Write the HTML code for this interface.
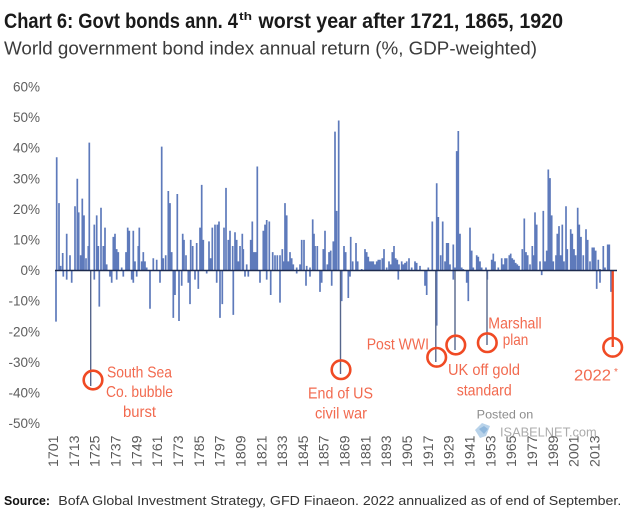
<!DOCTYPE html>
<html><head><meta charset="utf-8">
<style>
html,body{margin:0;padding:0;background:#fff;}
svg{display:block;}
text{font-family:"Liberation Sans",sans-serif;}
</style></head>
<body>
<svg width="630" height="513" viewBox="0 0 630 513" xmlns="http://www.w3.org/2000/svg">
<rect width="630" height="513" fill="#fff"/>
<!-- Title -->
<text x="4" y="28" font-size="21" font-weight="bold" fill="#1a1a1a" textLength="234" lengthAdjust="spacingAndGlyphs">Chart 6: Govt bonds ann. 4</text>
<text x="239" y="20" font-size="11" font-weight="bold" fill="#1a1a1a" textLength="13" lengthAdjust="spacingAndGlyphs">th</text>
<text x="258.5" y="28" font-size="21" font-weight="bold" fill="#1a1a1a" textLength="304.5" lengthAdjust="spacingAndGlyphs">worst year after 1721, 1865, 1920</text>
<text x="4" y="54.5" font-size="18.5" fill="#3b3b3b" textLength="533" lengthAdjust="spacingAndGlyphs">World government bond index annual return (%, GDP-weighted)</text>

<!-- Y axis labels -->
<g font-size="13.5" fill="#5e5e5e" text-anchor="end">
<text x="40" y="91.5">60%</text>
<text x="40" y="122.1">50%</text>
<text x="40" y="152.7">40%</text>
<text x="40" y="183.3">30%</text>
<text x="40" y="213.9">20%</text>
<text x="40" y="244.5">10%</text>
<text x="40" y="275.1">0%</text>
<text x="40" y="305.7">-10%</text>
<text x="40" y="336.3">-20%</text>
<text x="40" y="366.9">-30%</text>
<text x="40" y="397.5">-40%</text>
<text x="40" y="428.1">-50%</text>
</g>

<!-- Watermark -->
<g>
<path d="M475 430 L482 423 L490 426 L486 436 L480 438 Z" fill="#b9d3ea"/>
<path d="M479 429 L484 426 L488 429 L484 434 Z" fill="#8fb7dc"/>
<text x="476.7" y="418.3" font-size="12" fill="#8c8c8c" textLength="56.6" lengthAdjust="spacingAndGlyphs">Posted on</text>
<text x="500" y="436.7" font-size="13" fill="#ababab" textLength="96.7" lengthAdjust="spacingAndGlyphs">ISABELNET.com</text>
</g>

<!-- Bars (x in px, y in %) -->
<g transform="translate(0,270.5) scale(1,-3.06)">
<path fill="none" stroke="#5e7abb" stroke-width="1.7" vector-effect="non-scaling-stroke" d="
M56.7 0V37 M59 0V22 M60.7 0V1.5 M62.7 0V5.7 M66.7 0V12 M70 0V5 M75 0V21 M77.3 0V30 M78.7 0V19 M80.7 0V5 M82.3 0V23.5 M84 0V18 M86 0V4 M88.3 0V8 M89.3 0V41.8 M94.3 0V15 M96.7 0V18 M98.3 0V8 M101 0V20.5 M103.3 0V8 M105 0V14 M106.7 0V2 M113.3 0V11 M115 0V12 M116.7 0V7 M118.3 0V6 M121.7 0V1 M126 0V6 M127.7 0V14 M129.3 0V13 M133.3 0V13 M135 0V3 M138.3 0V8 M139.3 0V14 M141.7 0V3 M143.3 0V6 M145 0V3 M146.7 0V1 M153.3 0V4 M156.7 0V3.5 M161.7 0V40.5 M163.3 0V4 M165.7 0V5 M168.3 0V26 M170 0V22 M171.7 0V6 M177.3 0V25 M182.7 0V12 M184 0V10 M186 0V5 M190.7 0V10 M192.7 0V8 M196.7 0V9 M200 0V14 M201.7 0V28 M203.3 0V10 M209 0V9.5 M210.7 0V4 M212.3 0V14 M215 0V15 M217.3 0V15 M219 0V16 M224 0V14 M226 0V27 M228.3 0V10 M230 0V13 M232.7 0V8 M235 0V12.5 M236.7 0V10 M238.3 0V3 M240 0V8 M242.3 0V12 M243.3 0V7 M246.7 0V2 M250.7 0V10 M252.3 0V16 M254 0V6 M255.7 0V6 M257.3 0V34 M263.3 0V13 M265 0V15 M266.7 0V16.5 M269.3 0V16 M272.7 0V6 M275 0V5 M277.3 0V5 M280 0V5 M282.3 0V7 M284 0V3 M285 0V22 M286.7 0V18 M288.3 0V3 M290 0V6 M291.7 0V4 M293.3 0V2 M296.7 0V1 M300 0V2 M301.7 0V10 M304 0V10 M306.7 0V1.5 M310 0V1
M312.7 0V16.7 M314 0V12 M315 0V8 M317.3 0V8 M323.3 0V7 M325 0V13 M327.3 0V2 M329 0V6 M330.7 0V6.5 M333.3 0V9.5 M335 0V45.4 M336.7 0V19.5 M338.7 0V49 M344 0V8 M345.7 0V6 M350.7 0V11 M352.7 0V3 M356 0V9 M357.7 0V3 M361.7 0V0.5 M365 0V7 M366.7 0V6 M368.3 0V4.5 M370 0V3 M371.7 0V3 M373.3 0V3 M375 0V2 M376.7 0V3 M378.3 0V3.5 M380 0V3.5 M382.3 0V4 M384 0V7 M386.7 0V1 M389 0V3 M390.7 0V2 M392.3 0V6 M394 0V8 M395.7 0V4 M397.3 0V3.5 M399 0V2 M401.7 0V3 M403.3 0V2 M405 0V2.5 M406.7 0V3 M409 0V4 M411.7 0V1 M415 0V3 M416.7 0V2.5 M420 0V1.5 M428.3 0V1 M432.3 0V16 M436.7 0V28.5 M438.3 0V17.5 M440.7 0V5 M442.7 0V16 M445 0V3 M446.7 0V9 M448.3 0V9 M450 0V2 M453.3 0V8.5 M455 0V1 M456.7 0V39 M458.3 0V45.6 M460 0V12 M461.7 0V1 M463.3 0V0.5 M470 0V14 M471.7 0V6.5 M473.3 0V1 M476.7 0V5 M478.3 0V4.5 M480 0V3 M481.7 0V1 M486 0V1 M491.7 0V3.5 M493.3 0V5.5 M495 0V3 M498.3 0V1 M501.7 0V4 M503.3 0V2 M505 0V4 M506.7 0V4 M509.3 0V5 M510.7 0V5.5 M512.3 0V4 M514 0V3.5 M515.7 0V2.5 M517.3 0V2 M519 0V1.5 M522.3 0V7 M524.3 0V17 M526 0V6 M527.7 0V5 M530 0V2 M532.3 0V8 M533.3 0V5 M535 0V19 M536.7 0V15 M540 0V3 M543.3 0V19.5 M545 0V3 M546.7 0V6.5 M548.3 0V33 M550 0V30.2 M551.7 0V18 M553.3 0V3 M556 0V5 M557.3 0V12 M559 0V14.5 M560.7 0V5 M562.3 0V15 M564 0V3 M566 0V21 M567.3 0V7 M570.7 0V13.5 M572.3 0V12 M574 0V7 M575.7 0V5 M577.7 0V20.5 M579.3 0V15 M581 0V11 M583.3 0V5 M586 0V13.5 M587.7 0V10 M590 0V3 M592.3 0V7.5 M594 0V7.5 M595.7 0V6.5 M598.3 0V3.5 M600 0V0.5 M603.3 0V8 M605 0V1 M607.7 0V8.5 M609.3 0V8.5
M56 0V-16.7 M63.3 0V-2 M66.7 0V-3 M71.7 0V-4 M94.3 0V-3 M99.3 0V-11.8 M110 0V-2 M111.7 0V-4 M116.7 0V-3 M123.3 0V-2 M131.7 0V-3 M133.3 0V-4 M136.7 0V-2 M150 0V-12.5 M160 0V-4 M173.3 0V-15.5 M175 0V-8 M179 0V-16.5 M181.7 0V-5 M188.3 0V-4 M190 0V-11 M195 0V-3 M198.3 0V-6 M206.7 0V-1 M216.7 0V-4 M220 0V-15.5 M222.3 0V-11 M233.3 0V-14.5 M245 0V-2 M248.3 0V-2 M260 0V-4 M266.7 0V-3 M270.7 0V-8 M280 0V-10.5 M296.7 0V-1 M306 0V-5 M310 0V-2
M320 0V-7 M321.7 0V-4 M331.7 0V-5 M341.7 0V-10 M348.3 0V-9 M350 0V-2 M398.3 0V-3 M425 0V-5 M426.7 0V-8 M436.7 0V-18 M453.3 0V-3 M466.7 0V-4 M468.3 0V-10 M487.3 0V-3 M541.7 0V-1.5 M596.7 0V-6 M600 0V-4 M611 0V-7
"/>
</g>

<!-- Annotation stems -->
<g stroke="#56668c" stroke-width="1.4" fill="none">
<line x1="90.7" y1="270.5" x2="90.7" y2="386"/>
<line x1="340.5" y1="270.5" x2="340.5" y2="374"/>
<line x1="435.8" y1="270.5" x2="435.8" y2="362"/>
<line x1="455" y1="270.5" x2="455" y2="350"/>
<line x1="487" y1="270.5" x2="487" y2="345"/>
</g>
<rect x="611.6" y="271" width="2.3" height="76" fill="#f04a24"/>

<!-- Zero line -->
<line x1="55" y1="270.5" x2="617" y2="270.5" stroke="#1d2b4f" stroke-width="1.6"/>

<!-- Circles -->
<g fill="none" stroke="#f04a24" stroke-width="2.6">
<circle cx="93" cy="380" r="9.3"/>
<circle cx="341" cy="369.7" r="9.3"/>
<circle cx="436.7" cy="357.3" r="9.3"/>
<circle cx="455.8" cy="345" r="9.3"/>
<circle cx="487.3" cy="342.7" r="9.3"/>
<circle cx="612.7" cy="347.3" r="9.3"/>
</g>

<!-- Annotation text -->
<g font-size="16" fill="#f26a4f">
<text x="107" y="377.3" textLength="65" lengthAdjust="spacingAndGlyphs">South Sea</text>
<text x="106" y="397" textLength="67" lengthAdjust="spacingAndGlyphs">Co. bubble</text>
<text x="123" y="417" textLength="33" lengthAdjust="spacingAndGlyphs">burst</text>
<text x="308" y="398.3" textLength="65" lengthAdjust="spacingAndGlyphs">End of US</text>
<text x="315" y="418.3" textLength="52" lengthAdjust="spacingAndGlyphs">civil war</text>
<text x="366.7" y="349.3" textLength="62.3" lengthAdjust="spacingAndGlyphs">Post WWI</text>
<text x="448" y="375" textLength="72" lengthAdjust="spacingAndGlyphs">UK off gold</text>
<text x="456.7" y="395.7" textLength="55" lengthAdjust="spacingAndGlyphs">standard</text>
<text x="488.3" y="328.3" textLength="53.4" lengthAdjust="spacingAndGlyphs">Marshall</text>
<text x="502.7" y="345" textLength="25.6" lengthAdjust="spacingAndGlyphs">plan</text>
<text x="574" y="380.7" textLength="37" lengthAdjust="spacingAndGlyphs">2022</text>
<text x="614" y="375" font-size="10">*</text>
</g>

<!-- X axis labels -->
<g font-size="14" fill="#5a5a5a">
<text transform="translate(58,467) rotate(-90)" textLength="31.5" lengthAdjust="spacingAndGlyphs">1701</text>
<text transform="translate(78.8,467) rotate(-90)" textLength="31.5" lengthAdjust="spacingAndGlyphs">1713</text>
<text transform="translate(99.6,467) rotate(-90)" textLength="31.5" lengthAdjust="spacingAndGlyphs">1725</text>
<text transform="translate(120.5,467) rotate(-90)" textLength="31.5" lengthAdjust="spacingAndGlyphs">1737</text>
<text transform="translate(141.3,467) rotate(-90)" textLength="31.5" lengthAdjust="spacingAndGlyphs">1749</text>
<text transform="translate(162.1,467) rotate(-90)" textLength="31.5" lengthAdjust="spacingAndGlyphs">1761</text>
<text transform="translate(183,467) rotate(-90)" textLength="31.5" lengthAdjust="spacingAndGlyphs">1773</text>
<text transform="translate(203.8,467) rotate(-90)" textLength="31.5" lengthAdjust="spacingAndGlyphs">1785</text>
<text transform="translate(224.6,467) rotate(-90)" textLength="31.5" lengthAdjust="spacingAndGlyphs">1797</text>
<text transform="translate(245.4,467) rotate(-90)" textLength="31.5" lengthAdjust="spacingAndGlyphs">1809</text>
<text transform="translate(266.3,467) rotate(-90)" textLength="31.5" lengthAdjust="spacingAndGlyphs">1821</text>
<text transform="translate(287.1,467) rotate(-90)" textLength="31.5" lengthAdjust="spacingAndGlyphs">1833</text>
<text transform="translate(307.9,467) rotate(-90)" textLength="31.5" lengthAdjust="spacingAndGlyphs">1845</text>
<text transform="translate(328.7,467) rotate(-90)" textLength="31.5" lengthAdjust="spacingAndGlyphs">1857</text>
<text transform="translate(349.6,467) rotate(-90)" textLength="31.5" lengthAdjust="spacingAndGlyphs">1869</text>
<text transform="translate(370.4,467) rotate(-90)" textLength="31.5" lengthAdjust="spacingAndGlyphs">1881</text>
<text transform="translate(391.2,467) rotate(-90)" textLength="31.5" lengthAdjust="spacingAndGlyphs">1893</text>
<text transform="translate(412,467) rotate(-90)" textLength="31.5" lengthAdjust="spacingAndGlyphs">1905</text>
<text transform="translate(432.9,467) rotate(-90)" textLength="31.5" lengthAdjust="spacingAndGlyphs">1917</text>
<text transform="translate(453.7,467) rotate(-90)" textLength="31.5" lengthAdjust="spacingAndGlyphs">1929</text>
<text transform="translate(474.5,467) rotate(-90)" textLength="31.5" lengthAdjust="spacingAndGlyphs">1941</text>
<text transform="translate(495.4,467) rotate(-90)" textLength="31.5" lengthAdjust="spacingAndGlyphs">1953</text>
<text transform="translate(516.2,467) rotate(-90)" textLength="31.5" lengthAdjust="spacingAndGlyphs">1965</text>
<text transform="translate(537,467) rotate(-90)" textLength="31.5" lengthAdjust="spacingAndGlyphs">1977</text>
<text transform="translate(557.8,467) rotate(-90)" textLength="31.5" lengthAdjust="spacingAndGlyphs">1989</text>
<text transform="translate(578.7,467) rotate(-90)" textLength="31.5" lengthAdjust="spacingAndGlyphs">2001</text>
<text transform="translate(599.5,467) rotate(-90)" textLength="31.5" lengthAdjust="spacingAndGlyphs">2013</text>
</g>

<!-- Source -->
<text x="4" y="505" font-size="13" font-weight="bold" fill="#111" textLength="46" lengthAdjust="spacingAndGlyphs">Source:</text>
<text x="58.3" y="505" font-size="13" fill="#333" textLength="563" lengthAdjust="spacingAndGlyphs">BofA Global Investment Strategy, GFD Finaeon. 2022  annualized as of end of September.</text>
</svg>
</body></html>
